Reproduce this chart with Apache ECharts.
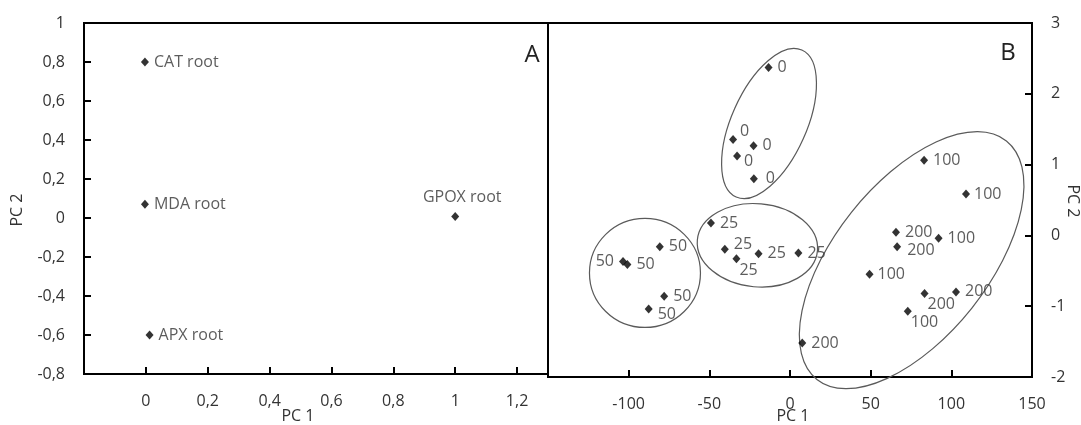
<!DOCTYPE html>
<html>
<head>
<meta charset="utf-8">
<script src="https://cdn.jsdelivr.net/npm/echarts@6/dist/echarts.min.js"></script>
<style>
html,body{margin:0;padding:0;background:#fff;}
#chart{width:1081px;height:425px;}
</style>
</head>
<body>
<div id="chart"></div>
<script>
// ---------- Panel A data ----------
const leftNames = ['CAT root', 'MDA root', 'APX root', 'GPOX root'];
const leftPC1 = [-0.003, -0.003, 0.012, 1.0];
const leftPC2 = [0.80, 0.07, -0.60, 0.008];
const leftXTicks = [0, 0.2, 0.4, 0.6, 0.8, 1, 1.2];
const leftYTicks = [-0.8, -0.6, -0.4, -0.2, 0, 0.2, 0.4, 0.6, 0.8, 1];

// ---------- Panel B data ----------
const rightLabels = ['0','0','0','0','0','25','25','25','25','25','50','50','50','50','50','100','100','100','100','100','200','200','200','200','200'];
const rightPC1 = [-13.3, -35.3, -22.6, -32.8, -22.4,
                  -49.0, -40.4, -33.2, -19.5, 5.2,
                  -80.7, -103.5, -100.8, -78.0, -87.6,
                  83.1, 109.1, 92.1, 49.3, 73.0,
                  65.7, 66.4, 83.4, 102.9, 7.6];
const rightPC2 = [2.37, 1.355, 1.265, 1.12, 0.80,
                  0.175, -0.197, -0.33, -0.26, -0.25,
                  -0.16, -0.37, -0.41, -0.86, -1.04,
                  1.06, 0.585, -0.04, -0.55, -1.07,
                  0.044, -0.16, -0.82, -0.80, -1.52];
const rightXTicks = [-100, -50, 0, 50, 100, 150];
const rightYTicks = [-2, -1, 0, 1, 2, 3];

// group ellipses (data units): centre, half extents, x-offset of topmost point
const ellipseCX = [-13.0, -20.2, -89.9, 75.4];
const ellipseCY = [1.58, -0.14, -0.53, -0.35];
const ellipseHX = [29.4, 37.3, 34.4, 69.6];
const ellipseHY = [1.06, 0.59, 0.77, 1.815];
const ellipseTX = [15.6, -2.5, 0, 40.6];

// ---------- label placement (style) ----------
const leftLabelPos = ['right', 'right', 'right', 'top'];
const leftLabelOff = [[0,0],[0,0],[0,0],[7,-2]];
const rightLabelPos = rightLabels.map((_, i) => i === 11 ? 'left' : 'right');
const rightLabelOff = [[0,0],[-2,-8],[0,0],[-2,5],[3,0],
                       [0,0],[0,-5],[-6,12],[0,0],[0,0],
                       [0,0],[0,0],[0,0],[0,0],[0,5],
                       [0,0],[-1,0],[0,0],[-1,0],[-6,11],
                       [0,0],[1,4],[-6,11],[0,-1],[0,0]];

const FONT = "'Open Sans', 'Noto Sans', sans-serif";
const TXT = '#333333';

function fmtFrom(list) {
  return function (v) {
    const hit = list.some(t => Math.abs(t - v) < 1e-9);
    if (!hit) return '';
    if (Math.abs(v - Math.round(v)) < 1e-9) return String(Math.round(v));
    return v.toFixed(1).replace('.', ',');
  };
}

function axisCommon(ticks) {
  return {
    axisLine: { show: true, onZero: false, lineStyle: { color: '#000', width: 2 } },
    axisTick: { show: true, inside: true, length: 7, lineStyle: { color: '#000', width: 2 } },
    splitLine: { show: false },
    axisLabel: { formatter: fmtFrom(ticks), color: TXT, fontSize: 16, fontFamily: FONT, margin: 19 }
  };
}

function renderEllipse(params, api) {
  const c = api.coord([api.value(0), api.value(1)]);
  const sz = api.size([api.value(2), api.value(3)]);
  const Hx = Math.abs(sz[0]), Hy = Math.abs(sz[1]);
  const t = api.value(4);
  const tpx = Math.abs(api.size([Math.abs(t), 0])[0]) * (t < 0 ? -1 : 1);
  const Mxx = Hx * Hx, Myy = Hy * Hy, Mxy = -tpx * Hy;
  const phi = 0.5 * Math.atan2(2 * Mxy, Mxx - Myy);
  const mid = (Mxx + Myy) / 2;
  const d = Math.sqrt(((Mxx - Myy) / 2) ** 2 + Mxy * Mxy);
  const a = Math.sqrt(mid + d), b = Math.sqrt(Math.max(mid - d, 1));
  const ux = Math.cos(phi), uy = Math.sin(phi);
  const x1 = c[0] + a * ux, y1 = c[1] + a * uy;
  const x2 = c[0] - a * ux, y2 = c[1] - a * uy;
  const deg = phi * 180 / Math.PI;
  const p = `M ${x1} ${y1} A ${a} ${b} ${deg} 0 1 ${x2} ${y2} A ${a} ${b} ${deg} 0 1 ${x1} ${y1} Z`;
  return {
    type: 'path',
    shape: { pathData: p },
    style: { fill: 'none', stroke: '#5a5a5a', lineWidth: 1.2 }
  };
}

const chart = echarts.init(document.getElementById('chart'), null, { renderer: 'canvas' });

const option = {
  animation: false,
  backgroundColor: '#fff',
  grid: [
    { left: 84, top: 23, width: 464, height: 351, show: true, borderColor: '#000', borderWidth: 2, backgroundColor: 'transparent' },
    { left: 548, top: 23, width: 484, height: 354, show: true, borderColor: '#000', borderWidth: 2, backgroundColor: 'transparent' }
  ],
  xAxis: [
    Object.assign({ type: 'value', gridIndex: 0, min: -0.2, max: 1.3, interval: 0.2 }, axisCommon(leftXTicks)),
    Object.assign({ type: 'value', gridIndex: 1, min: -150, max: 150, interval: 50 }, axisCommon(rightXTicks))
  ],
  yAxis: [
    Object.assign({ type: 'value', gridIndex: 0, min: -0.8, max: 1, interval: 0.2 }, axisCommon(leftYTicks)),
    Object.assign({ type: 'value', gridIndex: 1, min: -2, max: 3, interval: 1, position: 'right' }, axisCommon(rightYTicks))
  ],
  series: [
    {
      type: 'custom',
      xAxisIndex: 1, yAxisIndex: 1,
      renderItem: renderEllipse,
      clip: false,
      silent: true,
      z: 1,
      encode: { x: 0, y: 1 },
      data: ellipseCX.map((x, i) => [x, ellipseCY[i], ellipseHX[i], ellipseHY[i], ellipseTX[i]])
    },
    {
      type: 'scatter',
      xAxisIndex: 0, yAxisIndex: 0,
      symbol: 'diamond', symbolSize: [8, 9],
      itemStyle: { color: '#000' },
      z: 3,
      label: { show: true, color: TXT, fontSize: 16, fontFamily: FONT, formatter: p => leftNames[p.dataIndex] },
      data: leftPC1.map((x, i) => ({ value: [x, leftPC2[i]], label: { position: leftLabelPos[i], offset: leftLabelOff[i] } }))
    },
    {
      type: 'scatter',
      xAxisIndex: 1, yAxisIndex: 1,
      symbol: 'diamond', symbolSize: [8, 9],
      itemStyle: { color: '#000' },
      z: 3,
      label: { show: true, color: TXT, fontSize: 16, fontFamily: FONT, formatter: p => rightLabels[p.dataIndex] },
      data: rightPC1.map((x, i) => ({ value: [x, rightPC2[i]], label: { position: rightLabelPos[i], offset: rightLabelOff[i] } }))
    }
  ],
  graphic: [
    { type: 'text', x: 17, y: 210, rotation: Math.PI / 2, style: { text: 'PC 2', fill: TXT, font: '16px ' + FONT, align: 'center', verticalAlign: 'middle', textAlign: 'center', textVerticalAlign: 'middle' } },
    { type: 'text', x: 298, y: 416, style: { text: 'PC 1', fill: TXT, font: '16px ' + FONT, align: 'center', verticalAlign: 'middle', textAlign: 'center', textVerticalAlign: 'middle' } },
    { type: 'text', x: 793, y: 416, style: { text: 'PC 1', fill: TXT, font: '16px ' + FONT, align: 'center', verticalAlign: 'middle', textAlign: 'center', textVerticalAlign: 'middle' } },
    { type: 'text', x: 1073, y: 201, rotation: -Math.PI / 2, style: { text: 'PC 2', fill: TXT, font: '16px ' + FONT, align: 'center', verticalAlign: 'middle', textAlign: 'center', textVerticalAlign: 'middle' } },
    { type: 'text', x: 532, y: 55, style: { text: 'A', fill: '#222', font: '24px ' + FONT, align: 'center', verticalAlign: 'middle', textAlign: 'center', textVerticalAlign: 'middle' } },
    { type: 'text', x: 1008, y: 53, style: { text: 'B', fill: '#222', font: '24px ' + FONT, align: 'center', verticalAlign: 'middle', textAlign: 'center', textVerticalAlign: 'middle' } }
  ]
};
chart.setOption(option);
</script>
</body>
</html>
